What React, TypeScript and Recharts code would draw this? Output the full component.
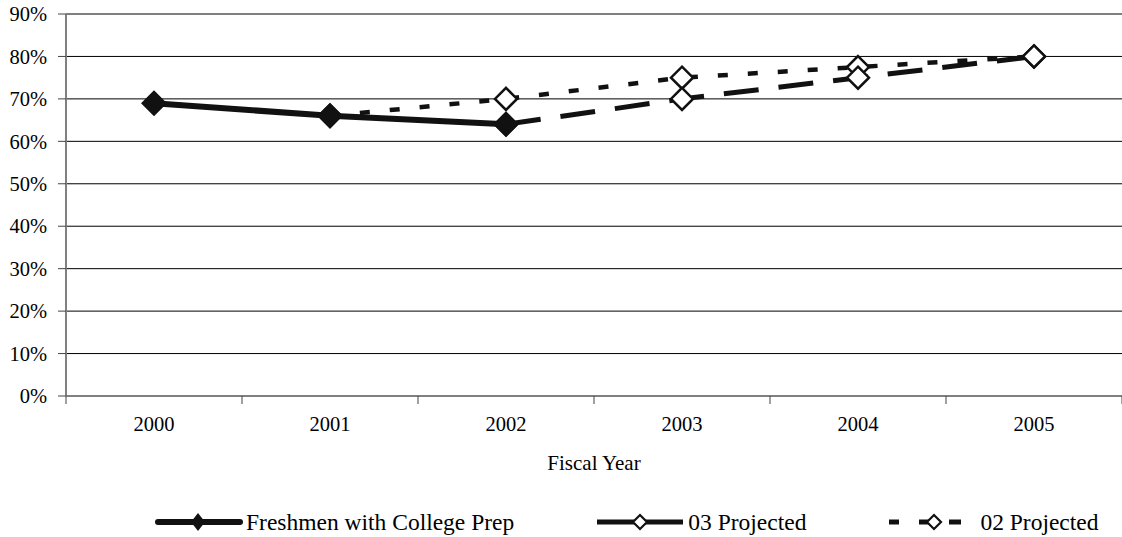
import { LineChart, Line, XAxis, YAxis, CartesianGrid } from 'recharts';

// Fiscal year categories and rates (%)
const years = ['2000', '2001', '2002', '2003', '2004', '2005'];
const freshmen = [69, 66, 64, null, null, null];
const projected03 = [null, null, 64, 70, 75, 80];
const projected02 = [null, 66, 70, 75, 77.5, 80];
const yTicks = [0, 10, 20, 30, 40, 50, 60, 70, 80, 90];

const W = 1122;
const H = 537;
const Y_AXIS_W = 66;
const BAND = (W - Y_AXIS_W) / years.length;
const FONT = "'Liberation Serif', 'Times New Roman', Times, 'DejaVu Serif', serif";
const INK = '#111';
const AXIS = '#808080';

// categories sit between numeric ticks so the tick marks fall on band edges
const data = years.map((year, i) => ({
  pos: i + 0.5,
  year,
  freshmen: freshmen[i],
  projected03: projected03[i],
  projected02: projected02[i],
}));

const diamond = (cx: number, cy: number, rx: number, ry: number) =>
  `${cx},${cy - ry} ${cx + rx},${cy} ${cx},${cy + ry} ${cx - rx},${cy}`;

const FilledDot = (props: any) => {
  const { cx, cy, index } = props;
  if (cx == null || cy == null || props.value == null) return <g key={`f${index}`} />;
  return <polygon key={`f${index}`} points={diamond(cx, cy, 13, 13)} fill={INK} />;
};

const OpenDot = (props: any) => {
  const { cx, cy, index, dataKey } = props;
  if (cx == null || cy == null || props.value == null) return <g key={`${dataKey}${index}`} />;
  return (
    <polygon key={`${dataKey}${index}`} points={diamond(cx, cy, 11, 11)} fill="#fff" stroke={INK} strokeWidth={2.5} />
  );
};

const YearTick = ({ x, y, payload }: any) => {
  const i = Math.round(payload.value);
  if (i >= years.length) return <g />;
  return (
    <text x={x + BAND / 2} y={y} dy="0.71em" textAnchor="middle" fontFamily={FONT} fontSize={20.5} fill="#000">
      {years[i]}
    </text>
  );
};

const legendItems = [
  { label: 'Freshmen with College Prep', kind: 'solid' },
  { label: '03 Projected', kind: 'long' },
  { label: '02 Projected', kind: 'short' },
];

const LegendIcon = ({ kind }: { kind: string }) => (
  <svg width={88} height={22} style={{ display: 'block' }}>
    {kind === 'solid' && (
      <>
        <line x1={3} y1={11} x2={85} y2={11} stroke={INK} strokeWidth={6} strokeLinecap="round" />
        <polygon points={diamond(43, 11, 7, 9)} fill={INK} />
      </>
    )}
    {kind === 'long' && (
      <>
        <line x1={0} y1={11} x2={86} y2={11} stroke={INK} strokeWidth={5} />
        <polygon points={diamond(43, 11, 7, 7)} fill="#fff" stroke={INK} strokeWidth={2.2} />
      </>
    )}
    {kind === 'short' && (
      <>
        <line x1={0} y1={11} x2={10} y2={11} stroke={INK} strokeWidth={5} />
        <line x1={30} y1={11} x2={40} y2={11} stroke={INK} strokeWidth={5} />
        <line x1={60} y1={11} x2={72} y2={11} stroke={INK} strokeWidth={5} />
        <polygon points={diamond(45, 11, 7, 7)} fill="#fff" stroke={INK} strokeWidth={2.2} />
      </>
    )}
  </svg>
);

const ChartLegend = () => (
  <div
    style={{
      position: 'absolute',
      left: 155,
      top: 510,
      display: 'flex',
      alignItems: 'center',
      gap: 83,
      fontFamily: FONT,
      fontSize: 23.5,
      lineHeight: '24px',
    }}
  >
    {legendItems.map((it) => (
      <div key={it.label} style={{ display: 'flex', alignItems: 'center', gap: 3 }}>
        <LegendIcon kind={it.kind} />
        <span style={{ whiteSpace: 'nowrap' }}>{it.label}</span>
      </div>
    ))}
  </div>
);

export default function App() {
  return (
    <div style={{ position: 'absolute', left: 0, top: 0, width: W, height: H, background: '#fff' }}>
      <LineChart width={W} height={H} data={data} margin={{ top: 14, right: 0, left: 0, bottom: 67 }}>
        <CartesianGrid vertical={false} stroke="#000" strokeWidth={1} />
        <XAxis
          dataKey="pos"
          type="number"
          domain={[0, years.length]}
          ticks={[0, 1, 2, 3, 4, 5, 6]}
          interval={0}
          height={74}
          stroke={AXIS}
          strokeWidth={2}
          tickSize={8}
          tickMargin={12}
          tickLine={{ stroke: '#444', strokeWidth: 1 }}
          tick={<YearTick />}
          label={{ value: 'Fiscal Year', position: 'insideBottom', offset: 0, fontFamily: FONT, fontSize: 21, fill: '#000' }}
        />
        <YAxis
          domain={[0, 90]}
          ticks={yTicks}
          interval={0}
          width={Y_AXIS_W}
          stroke={AXIS}
          strokeWidth={2}
          tickSize={8}
          tickMargin={11}
          tickLine={{ stroke: '#444', strokeWidth: 1 }}
          tickFormatter={(v: number) => `${v}%`}
          tick={{ fontFamily: FONT, fontSize: 20.5, fill: '#000' }}
        />
        <Line
          dataKey="projected02"
          name="02 Projected"
          stroke={INK}
          strokeWidth={4.5}
          strokeDasharray="10 20"
          dot={<OpenDot />}
          activeDot={false}
          isAnimationActive={false}
        />
        <Line
          dataKey="projected03"
          name="03 Projected"
          stroke={INK}
          strokeWidth={5}
          strokeDasharray="35 20"
          dot={<OpenDot />}
          activeDot={false}
          isAnimationActive={false}
        />
        <Line
          dataKey="freshmen"
          name="Freshmen with College Prep"
          stroke={INK}
          strokeWidth={6}
          dot={<FilledDot />}
          activeDot={false}
          isAnimationActive={false}
        />
      </LineChart>
      <ChartLegend />
    </div>
  );
}
